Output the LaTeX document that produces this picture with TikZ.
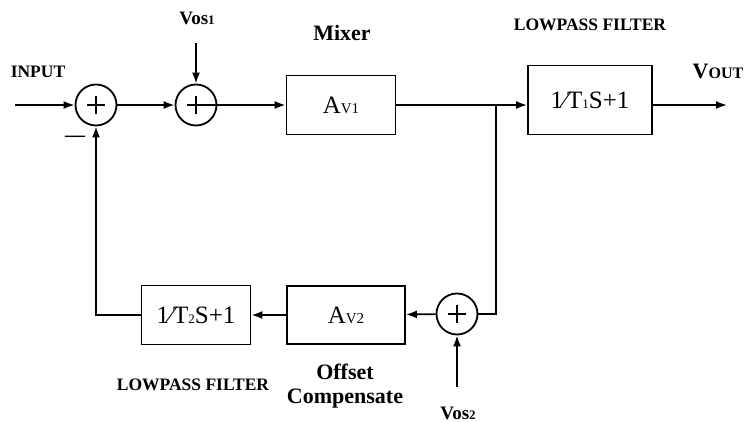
\documentclass[tikz,border=0pt]{standalone}
\usepackage{fontspec}
\setmainfont{Liberation Serif}
\usetikzlibrary{arrows.meta,positioning}
\newcommand{\subsz}[1]{{\fontsize{13}{13}\selectfont #1}}

\begin{document}
\begin{tikzpicture}[
  x=1pt, y=-1pt,
  line width=1.8pt,
  box/.style={draw, minimum width=109pt, minimum height=59pt, inner sep=0pt, font=\fontsize{25}{25}\selectfont},
  sum/.style={draw, circle, minimum size=41pt, inner sep=0pt,
    path picture={\draw[line width=1.8pt]
      ([xshift=-9pt]path picture bounding box.center) -- ([xshift=9pt]path picture bounding box.center)
      ([yshift=-9pt]path picture bounding box.center) -- ([yshift=9pt]path picture bounding box.center);}},
  arrow/.style={-{Latex[length=11pt,width=8pt]}},
  lbl/.style={font=\bfseries\fontsize{17.5}{17.5}\selectfont},
  big/.style={font=\bfseries\fontsize{22}{24}\selectfont, align=center}
]
\useasboundingbox (0,0) rectangle (745,422);

% blocks
\node[sum] (sum1) at (96,105) {};
\node[sum] (sum2) at (196,105) {};
\node[box] (av1) at (341,105) {A{\fontsize{15}{15}\selectfont V1}};
\node[box, minimum width=124pt, minimum height=69pt] (lp1) at (590,100) {1\char"2044 T\subsz{1}S+1};
\node[sum] (sum3) at (457,314) {};
\node[box, minimum width=118pt, minimum height=58pt] (av2) at (346,315) {A{\fontsize{15}{15}\selectfont V2}};
\node[box] (lp2) at (196,315) {1\char"2044 T\subsz{2}S+1};

\coordinate (in) at (15,105);
\coordinate (vos1) at (196,43);
\coordinate (split) at (496,105);
\coordinate (out) at (727,105);
\coordinate (vos2) at (457,387);

% labels
\node[lbl] (input) at (38,72) {INPUT};
\node[font=\bfseries\fontsize{20}{20}\selectfont] (minus) at (75,139) {---};
\node[font=\bfseries\fontsize{19}{19}\selectfont] (vos1lbl) at (197,18) {Vos\subsz{1}};
\node[big] (mixer) at (342,33) {Mixer};
\node[lbl] (lpf1) at (590,25) {LOWPASS FILTER};
\node[font=\bfseries] (voutlbl) at (718,71) {{\fontsize{22}{22}\selectfont V}{\fontsize{16}{16}\selectfont OUT}};
\node[lbl] (lpf2) at (193,385) {LOWPASS FILTER};
\node[big] (offset) at (345,386) {Offset\\Compensate};
\node[font=\bfseries\fontsize{19}{19}\selectfont] (vos2lbl) at (458,413) {Vos\subsz{2}};

% connections
\draw[arrow] (in) -- (sum1);
\draw[arrow] (sum1) -- (sum2);
\draw[arrow] (vos1) -- (sum2);
\draw[arrow] (sum2.center) -- (av1);
\draw (av1) -- (split);
\draw[arrow] (split) -- (lp1.west |- split);
\draw[arrow] (lp1.east |- split) -- (out);
\draw (split) |- (sum3.east);
\draw[arrow] (vos2) -- (sum3);
\draw[arrow] (sum3) -- (av2);
\draw[arrow] (av2) -- (lp2);
\draw[arrow] (lp2) -| (sum1);

\end{tikzpicture}
\end{document}
